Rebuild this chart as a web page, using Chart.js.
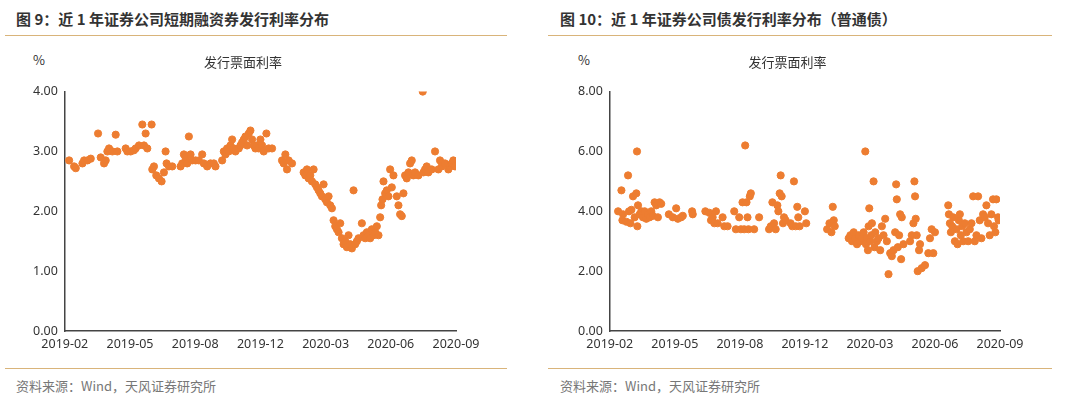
<!DOCTYPE html>
<html><head><meta charset="utf-8">
<script src="https://cdn.jsdelivr.net/npm/chart.js@4/dist/chart.umd.min.js"></script>
<style>
body{margin:0;width:1080px;height:406px;background:#fff;font-family:"Noto Sans CJK SC",sans-serif;position:relative;overflow:hidden}
.title{position:absolute;top:8px;font-size:15px;font-weight:bold;color:#333}
.rule{position:absolute;height:1px;background:#d9b47a}
.src{position:absolute;top:376px;font-size:13px;color:#777}
.pct{position:absolute;top:50px;font-size:13px;color:#333}
.box{position:absolute;top:50px;width:500px;height:304px}
</style></head><body>
<div class="title" style="left:16px">图 9：近 1 年证券公司短期融资券发行利率分布</div>
<div class="title" style="left:560px">图 10：近 1 年证券公司债发行利率分布（普通债）</div>
<div class="rule" style="left:5px;width:502px;top:35px"></div>
<div class="rule" style="left:548px;width:504px;top:35px"></div>
<div class="rule" style="left:5px;width:502px;top:368px"></div>
<div class="rule" style="left:548px;width:504px;top:368px"></div>
<div class="pct" style="left:33px">%</div>
<div class="pct" style="left:578px">%</div>
<div class="src" style="left:16px">资料来源：Wind，天风证券研究所</div>
<div class="src" style="left:560px">资料来源：Wind，天风证券研究所</div>
<div class="box" style="left:6px"><canvas id="c1"></canvas></div>
<div class="box" style="left:550px"><canvas id="c2"></canvas></div>
<script>
const monthLabels = ['2019-02','2019-05','2019-08','2019-12','2020-03','2020-06','2020-09'];
// x = position along the time axis (first tick 0, tick step 196)
const cpX = [13,28,33,53,58,68,78,100,108,118,123,128,133,143,153,158,183,188,198,208,213,223,233,238,243,248,261,263,268,275,283,291,298,303,306,313,323,348,353,358,363,368,373,378,383,393,403,413,418,428,438,448,453,473,478,483,488,493,498,503,508,513,523,528,533,538,543,548,553,558,563,568,573,578,583,588,593,598,606,613,623,653,658,663,668,673,683,718,723,728,733,738,743,748,753,758,763,768,773,778,783,788,793,798,803,808,813,818,823,828,833,838,843,848,853,858,863,868,873,878,883,893,898,903,908,913,918,923,928,933,938,943,948,951,955,958,963,968,973,978,983,988,998,1003,1008,1013,1018,1023,1028,1033,1038,1043,1048,1053,1063,1076,1078,1083,1088,1093,1103,1113,1123,1128,1133,1143,1153,1158,1163,1168,1173];
const cpY = [2.85,2.75,2.72,2.8,2.85,2.85,2.88,3.3,2.9,2.8,2.85,3.0,3.05,3.0,3.28,3.0,3.05,3.0,3.0,3.02,3.05,3.1,3.45,3.1,3.3,3.05,3.45,2.7,2.75,2.6,2.55,2.5,2.65,3.0,2.8,2.75,2.75,2.75,2.8,2.95,2.9,2.8,3.25,2.95,2.85,2.85,2.85,2.95,2.8,2.75,2.8,2.8,2.75,2.85,3.0,2.95,3.05,3.0,3.1,3.2,3.05,3.0,3.05,3.1,3.15,3.2,3.25,3.1,3.3,3.35,3.2,3.1,3.05,3.1,3.05,3.2,3.1,3.0,3.3,3.05,3.05,2.85,2.8,2.95,2.7,2.85,2.8,2.65,2.6,2.7,2.55,2.6,2.5,2.7,2.45,2.4,2.35,2.3,2.25,2.45,2.2,2.15,2.25,2.1,2.05,1.85,1.75,1.7,1.65,1.8,1.55,1.45,1.5,1.4,1.6,1.45,1.38,2.35,1.45,1.5,1.55,1.8,1.6,1.55,1.65,1.6,1.55,1.7,1.6,1.65,1.75,1.6,1.9,2.1,2.2,2.5,2.3,2.35,2.25,2.7,2.4,2.6,2.25,2.1,1.95,1.92,2.3,2.6,2.55,2.65,2.8,2.85,2.6,2.65,2.6,4.0,2.65,2.7,2.75,2.65,2.7,3.0,2.7,2.85,2.75,2.8,2.7,2.75,2.8,2.85,2.75];
const bondX = [25,35,40,38,50,55,58,62,65,70,75,80,82,83,85,90,95,100,105,110,115,120,125,130,135,140,145,150,155,178,190,200,205,215,220,248,250,288,300,305,310,315,320,325,340,345,355,375,380,390,395,400,405,408,412,415,418,422,425,435,450,480,485,490,495,500,505,508,512,515,518,522,525,530,545,550,555,560,565,568,572,588,592,655,662,668,672,675,678,720,725,730,735,740,745,750,755,760,765,770,772,775,778,780,782,785,788,790,795,798,800,805,810,815,820,825,830,835,840,845,850,855,860,863,865,868,872,875,878,880,885,905,910,915,918,920,922,925,928,932,935,940,950,960,965,970,975,980,1020,1022,1025,1028,1032,1035,1040,1045,1048,1052,1055,1058,1062,1065,1070,1075,1080,1085,1090,1095,1100,1105,1110,1115,1120,1125,1130,1135,1140,1145,1150,1155,1158,1162,1165,1170,1172];
const bondY = [4.0,4.7,3.9,3.7,3.65,5.2,4.0,3.6,4.05,4.5,3.8,4.6,6.0,3.5,4.2,3.9,4.0,3.8,4.0,3.75,3.9,3.8,4.0,3.85,4.3,4.2,3.8,4.3,4.25,3.9,3.8,4.1,3.75,3.8,3.85,4.0,3.9,4.0,3.95,3.7,3.8,3.6,4.0,3.6,3.8,3.5,3.5,4.0,3.4,3.8,3.4,4.3,3.4,6.2,4.3,3.8,3.4,4.5,4.6,3.4,3.8,3.4,3.5,4.3,3.6,3.4,4.2,4.0,4.6,5.2,4.5,3.6,3.8,3.7,3.6,3.5,5.0,3.5,4.15,3.8,3.5,4.0,3.6,3.4,3.6,3.3,4.15,3.7,3.5,3.1,3.2,3.0,3.3,3.1,2.9,3.2,3.0,3.1,3.3,6.0,2.9,3.1,2.7,3.5,4.1,3.0,3.2,3.6,5.0,2.8,3.3,3.0,3.1,2.7,3.5,3.2,3.75,3.0,1.9,2.6,2.5,2.7,3.3,4.9,4.4,2.8,3.2,3.9,2.4,3.8,2.9,3.0,3.2,3.6,5.0,4.5,3.75,3.2,2.0,2.7,2.9,2.1,2.2,2.6,3.1,3.4,2.6,3.3,4.2,3.9,3.6,3.3,3.5,3.8,3.0,3.4,2.9,3.7,3.9,3.2,3.5,3.0,3.6,3.3,3.0,3.4,3.6,4.5,3.0,3.2,4.5,3.7,3.1,3.9,3.8,4.2,3.6,3.2,3.9,4.4,3.5,3.3,4.4,3.8,3.7];

const STEP = 196;
function makeChart(id, xs, ys, yMax, yStep, padLeft, padRight) {
  const pts = xs.map((x, i) => ({x: x, y: ys[i]}));
  const axisColor = '#444';
  new Chart(document.getElementById(id), {
    type: 'scatter',
    data: {datasets: [{data: pts, backgroundColor: '#ED7D31', borderColor: '#ED7D31', pointRadius: 3.6, pointHoverRadius: 3.6}]},
    options: {
      responsive: true, maintainAspectRatio: false, animation: false,
      layout: {padding: {left: padLeft, right: padRight, top: 0, bottom: 0}},
      plugins: {
        legend: {display: false}, tooltip: {enabled: false},
        title: {display: true, text: '发行票面利率', color: '#333', font: {size: 13, family: 'Noto Sans CJK SC', weight: 'normal'}, padding: {top: 4, bottom: 22}}
      },
      scales: {
        x: {
          type: 'linear', min: 0, max: STEP * 6,
          afterBuildTicks: (s) => { s.ticks = monthLabels.map((l, i) => ({value: i * STEP})); },
          ticks: {callback: (v) => monthLabels[Math.round(v / STEP)], color: '#333', font: {size: 12.5, family: 'Noto Sans'}, maxRotation: 0, autoSkip: false, padding: 2},
          grid: {display: false, drawTicks: true, tickLength: 4, color: axisColor},
          border: {color: axisColor, width: 1.5}
        },
        y: {
          min: 0, max: yMax,
          ticks: {stepSize: yStep, callback: (v) => v.toFixed(2), color: '#333', font: {size: 12.5, family: 'Noto Sans'}, padding: 3},
          grid: {display: false, drawTicks: true, tickLength: 4, color: axisColor},
          border: {color: axisColor, width: 1.5}
        }
      }
    }
  });
}
makeChart('c1', cpX, cpY, 4, 1, 24, 50);
makeChart('c2', bondX, bondY, 8, 2, 25, 50);
</script>
</body></html>
